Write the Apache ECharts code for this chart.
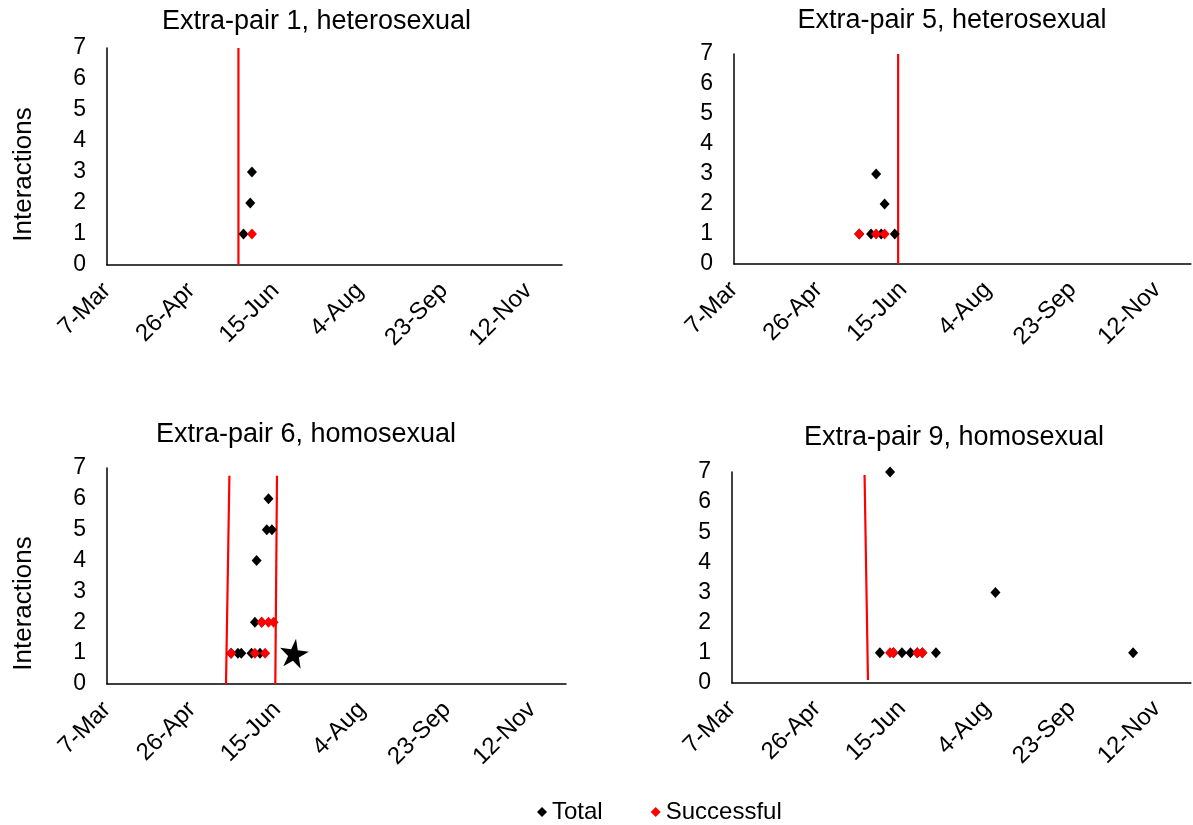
<!DOCTYPE html>
<html>
<head>
<meta charset="utf-8">
<script src="https://cdn.jsdelivr.net/npm/echarts@6/dist/echarts.min.js"></script>
<style>
html,body{margin:0;padding:0;background:#fff;}
#chart{width:1193px;height:825px;}
</style>
</head>
<body>
<div id="chart"></div>
<script>
// ---------- DATA ----------
const tickLabels = ['7-Mar', '26-Apr', '15-Jun', '4-Aug', '23-Sep', '12-Nov'];
const titles = ['Extra-pair 1, heterosexual', 'Extra-pair 5, heterosexual', 'Extra-pair 6, homosexual', 'Extra-pair 9, homosexual'];
const yAxisTitle = 'Interactions';
const legendNames = ['Total', 'Successful'];

// Panel 1
const p1TotalDates = ['2019-05-27', '2019-05-31', '2019-06-01'];
const p1TotalValues = [1, 2, 3];
const p1SuccessDates = ['2019-06-01'];
const p1SuccessValues = [1];
const p1LineDates = [['2019-05-24', '2019-05-24']];
const p1LineValues = [[0, 7]];

// Panel 2
const p2TotalDates = ['2019-05-20', '2019-05-27', '2019-05-30', '2019-06-02', '2019-06-04', '2019-06-10'];
const p2TotalValues = [1, 1, 3, 1, 2, 1];
const p2SuccessDates = ['2019-05-20', '2019-05-30', '2019-06-04'];
const p2SuccessValues = [1, 1, 1];
const p2LineDates = [['2019-06-12', '2019-06-12']];
const p2LineValues = [[0, 7]];

// Panel 3
const p3TotalDates = ['2019-05-19', '2019-05-23', '2019-05-25', '2019-05-31', '2019-06-02', '2019-06-03', '2019-06-05', '2019-06-06', '2019-06-09', '2019-06-10', '2019-06-12'];
const p3TotalValues = [1, 1, 1, 1, 2, 4, 1, 2, 5, 6, 5];
const p3SuccessDates = ['2019-05-19', '2019-06-02', '2019-06-06', '2019-06-08', '2019-06-10', '2019-06-13'];
const p3SuccessValues = [1, 1, 2, 1, 2, 2];
const p3LineDates = [['2019-05-16', '2019-05-18'], ['2019-06-14', '2019-06-15']];
const p3LineValues = [[0, 6.75], [0, 6.75]];
const p3StarDates = ['2019-06-25'];
const p3StarValues = [1];

// Panel 4
const p4TotalDates = ['2019-06-02', '2019-06-08', '2019-06-10', '2019-06-15', '2019-06-20', '2019-06-24', '2019-06-27', '2019-07-05', '2019-08-09', '2019-10-29'];
const p4TotalValues = [1, 7, 1, 1, 1, 1, 1, 1, 3, 1];
const p4SuccessDates = ['2019-06-08', '2019-06-10', '2019-06-24', '2019-06-27'];
const p4SuccessValues = [1, 1, 1, 1];
const p4LineDates = [['2019-05-24', '2019-05-26']];
const p4LineValues = [[6.9, 0.1]];

// ---------- HELPERS ----------
const DAY0 = Date.UTC(2019, 2, 7);
function dayOf(s) {
  const p = s.split('-').map(Number);
  return (Date.UTC(p[0], p[1] - 1, p[2]) - DAY0) / 86400000;
}
function pairs(dates, vals) { return dates.map((d, i) => [dayOf(d), vals[i]]); }

const FONT = 'Liberation Sans, Arial, sans-serif';
const panels = [
  {total: [p1TotalDates, p1TotalValues], succ: [p1SuccessDates, p1SuccessValues], lines: [p1LineDates, p1LineValues],
   grid: {left: 107, top: 48, width: 455, height: 217}, yname: [23.5, 174.5], tx: 316.5, ty: 8},
  {total: [p2TotalDates, p2TotalValues], succ: [p2SuccessDates, p2SuccessValues], lines: [p2LineDates, p2LineValues],
   grid: {left: 734, top: 54, width: 463, height: 210}, yname: null, tx: 952, ty: 7},
  {total: [p3TotalDates, p3TotalValues], succ: [p3SuccessDates, p3SuccessValues], lines: [p3LineDates, p3LineValues],
   grid: {left: 107, top: 468, width: 459, height: 216}, yname: [23.5, 603.5], tx: 306, ty: 421},
  {total: [p4TotalDates, p4TotalValues], succ: [p4SuccessDates, p4SuccessValues], lines: [p4LineDates, p4LineValues],
   grid: {left: 732, top: 472, width: 468, height: 211}, yname: null, tx: 954, ty: 424}
];

const grids = [], xAxes = [], yAxes = [], series = [], graphics = [];
panels.forEach((p, i) => {
  grids.push(Object.assign({containLabel: false}, p.grid));
  xAxes.push({
    type: 'value', gridIndex: i, min: 0, max: 270, interval: 50,
    axisLine: {show: true, onZero: false, lineStyle: {color: '#000', width: 1.5}},
    axisTick: {show: false}, splitLine: {show: false},
    axisLabel: {rotate: 45, margin: 22, fontSize: 24, color: '#000', fontFamily: FONT,
      formatter: v => (v % 50 === 0 && tickLabels[v / 50]) ? tickLabels[v / 50] : ''}
  });
  yAxes.push({
    type: 'value', gridIndex: i, min: 0, max: 7, interval: 1,
    axisLine: {show: true, lineStyle: {color: '#000', width: 1.5}},
    axisTick: {show: false}, splitLine: {show: false},
    axisLabel: {margin: 21, fontSize: 23, color: '#000', fontFamily: FONT}
  });
  p.lines[0].forEach((ld, k) => {
    series.push({
      type: 'line', name: 'window', xAxisIndex: i, yAxisIndex: i, silent: true,
      data: pairs(ld, p.lines[1][k]), symbol: 'none', z: 1,
      lineStyle: {color: '#ff0000', width: 2.2}
    });
  });
  series.push({
    type: 'scatter', name: 'Total', xAxisIndex: i, yAxisIndex: i, z: 2,
    data: pairs(p.total[0], p.total[1]), symbol: 'diamond', symbolSize: [10, 11],
    itemStyle: {color: '#000', opacity: 1}
  });
  series.push({
    type: 'scatter', name: 'Successful', xAxisIndex: i, yAxisIndex: i, z: 3,
    data: pairs(p.succ[0], p.succ[1]), symbol: 'diamond', symbolSize: [10, 11],
    itemStyle: {color: '#ff0000', opacity: 1}
  });
  graphics.push({
    type: 'text', x: p.tx, y: p.ty,
    style: {text: titles[i], fill: '#000', fontSize: 27, fontFamily: FONT, textAlign: 'center', textVerticalAlign: 'top'}
  });
  if (p.yname) {
    graphics.push({
      type: 'text', x: p.yname[0], y: p.yname[1], rotation: Math.PI / 2,
      style: {text: yAxisTitle, fill: '#000', fontSize: 26, fontFamily: FONT, textAlign: 'center', textVerticalAlign: 'middle'}
    });
  }
});
series.push({
  type: 'scatter', name: 'star', xAxisIndex: 2, yAxisIndex: 2, z: 4,
  data: pairs(p3StarDates, p3StarValues),
  symbol: 'path://M50,0 L61,35 L98,35 L68,57 L79,91 L50,70 L21,91 L32,57 L2,35 L39,35 Z',
  symbolSize: 29, symbolRotate: -8, itemStyle: {color: '#000', opacity: 1}
});

const chart = echarts.init(document.getElementById('chart'), null, {renderer: 'canvas'});
chart.setOption({
  animation: false,
  backgroundColor: '#fff',
  grid: grids, xAxis: xAxes, yAxis: yAxes, series: series,
  graphic: graphics,
  legend: {
    data: legendNames, left: 537, top: 800, padding: 0, icon: 'diamond',
    itemWidth: 10, itemHeight: 10, itemGap: 48,
    textStyle: {fontSize: 24, color: '#000', fontFamily: FONT}
  }
});
</script>
</body>
</html>
